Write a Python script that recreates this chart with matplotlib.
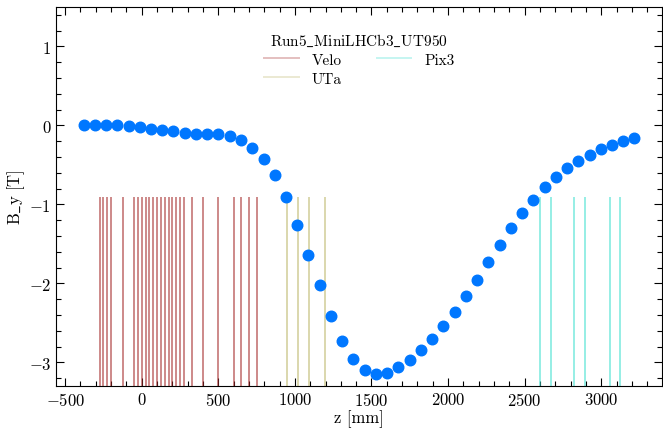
import matplotlib as mpl
mpl.use("Agg")
import matplotlib.pyplot as plt
from matplotlib.ticker import MultipleLocator

mpl.rcParams["font.family"] = ["cmr10", "DejaVu Serif"]
mpl.rcParams["mathtext.fontset"] = "cm"
mpl.rcParams["axes.formatter.use_mathtext"] = True
mpl.rcParams["font.size"] = 12

# field map samples
z = [-380, -307, -233, -160, -86, -13, 60, 134, 207, 281,
     354, 428, 501, 574, 648, 721, 795, 868, 942, 1015,
     1088, 1162, 1235, 1309, 1382, 1456, 1529, 1602, 1676, 1749,
     1823, 1896, 1970, 2043, 2117, 2190, 2263, 2337, 2410, 2484,
     2557, 2631, 2704, 2777, 2851, 2924, 2998, 3071, 3145, 3217]
by = [0.0, 0.0, 0.0, 0.0, -0.01, -0.025, -0.04, -0.055, -0.07, -0.095,
      -0.105, -0.105, -0.11, -0.135, -0.19, -0.28, -0.425, -0.63, -0.91, -1.255,
      -1.635, -2.025, -2.41, -2.73, -2.96, -3.095, -3.15, -3.13, -3.065, -2.97,
      -2.845, -2.705, -2.545, -2.36, -2.16, -1.955, -1.73, -1.51, -1.30, -1.11,
      -0.94, -0.785, -0.655, -0.54, -0.445, -0.37, -0.30, -0.245, -0.20, -0.165]

# detector planes
velo = [-275, -250, -225, -200, -125, -50, -25, 0, 25, 50, 75, 100, 125,
        150, 175, 200, 225, 250, 275, 325, 400, 500, 600, 650, 700, 750]
uta = [950, 1020, 1095, 1195]
pix3 = [2600, 2670, 2825, 2895, 3055, 3125]

detectors = [("Velo", velo, "brown"), ("UTa", uta, "darkkhaki"), ("Pix3", pix3, "turquoise")]

fig = plt.figure(figsize=(6.63, 4.31), dpi=100)
ax = fig.add_axes([56 / 663, 1 - 387 / 431, 606 / 663, 379 / 431])

handles = []
for name, planes, col in detectors:
    lines = ax.vlines(planes, -3.5, -0.9, colors=col, alpha=0.55, lw=1.4, label=name)
    handles.append(lines)

ax.plot(z, by, "o", color="#0077ff", ms=7.6, zorder=3)

ax.set_ylim(-3.3, 1.5)
ax.set_xlabel("z [mm]", labelpad=1)
ax.set_ylabel(r"$\mathrm{B\_y\ [T]}$", labelpad=1)

ax.xaxis.set_major_locator(MultipleLocator(500))
ax.xaxis.set_minor_locator(MultipleLocator(100))
ax.yaxis.set_major_locator(MultipleLocator(1))
ax.yaxis.set_minor_locator(MultipleLocator(0.2))
ax.tick_params(which="both", direction="in", top=True, right=True, width=0.8)
ax.tick_params(which="major", length=6)
ax.tick_params(which="minor", length=3.5)

leg = ax.legend(handles=handles, title=r"$\mathrm{Run5\_MiniLHCb3\_UT950}$",
                loc="upper center", ncol=2, frameon=False, handlelength=2.4,
                columnspacing=2.2, borderaxespad=1.2, labelspacing=0.35,
                fontsize=11, title_fontsize=11)
for h in leg.legend_handles:
    h.set_alpha(0.3)

plt.savefig("out.png", dpi=100)
